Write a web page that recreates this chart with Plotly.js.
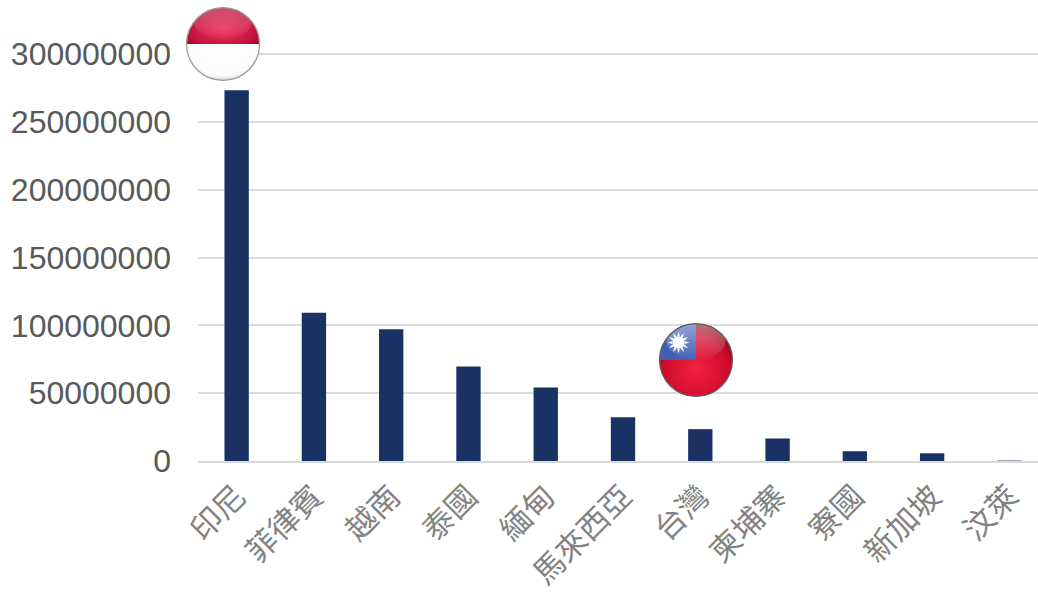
<!DOCTYPE html>
<html>
<head>
<meta charset="utf-8">
<script src="https://cdn.plot.ly/plotly-3.0.1.min.js"></script>
<style>html,body{margin:0;padding:0;background:#fff;overflow:hidden}#chart{width:1038px;height:594px}</style>
</head>
<body>
<div id="chart"></div>
<script>
const categories = ['印尼','菲律賓','越南','泰國','緬甸','馬來西亞','台灣','柬埔寨','寮國','新加坡','汶萊'];
const population = [273500000,109300000,97200000,69700000,54300000,32300000,23500000,16600000,7200000,5700000,300000];
const yTicks = [0,50000000,100000000,150000000,200000000,250000000,300000000];

function gloss(id){
  return `<linearGradient id="${id}h" x1="0" y1="0" x2="0" y2="1"><stop offset="0" stop-color="#fff" stop-opacity=".55"/><stop offset="1" stop-color="#fff" stop-opacity=".03"/></linearGradient>
  <clipPath id="${id}c"><circle cx="50" cy="50" r="48"/></clipPath>`;
}
const indonesia = `<svg xmlns="http://www.w3.org/2000/svg" width="200" height="200" viewBox="0 0 100 100"><defs>${gloss('a')}
<radialGradient id="r" cx="50%" cy="62%" r="65%"><stop offset="0" stop-color="#f0345e"/><stop offset=".7" stop-color="#c4103a"/><stop offset="1" stop-color="#8f0a28"/></radialGradient>
<radialGradient id="w" cx="50%" cy="25%" r="78%"><stop offset="0" stop-color="#fff"/><stop offset=".75" stop-color="#fbfbfb"/><stop offset="1" stop-color="#b5b5b5"/></radialGradient></defs>
<g clip-path="url(#ac)"><rect width="100" height="50" fill="url(#r)"/><rect y="50" width="100" height="50" fill="url(#w)"/>
<ellipse cx="50" cy="22" rx="38" ry="21" fill="url(#ah)" opacity=".55"/></g>
<circle cx="50" cy="50" r="48" fill="none" stroke="#9a9a9a" stroke-width="1.6"/></svg>`;

const rays = Array.from({length:12},(_,i)=>`<polygon points="-1.8,-8 1.8,-8 0,-14.5" fill="#fff" transform="translate(27,27) rotate(${i*30})"/>`).join('');
const taiwan = `<svg xmlns="http://www.w3.org/2000/svg" width="200" height="200" viewBox="0 0 100 100"><defs>${gloss('b')}
<radialGradient id="rr" cx="50%" cy="62%" r="60%"><stop offset="0" stop-color="#f5203f"/><stop offset=".7" stop-color="#cf0c2c"/><stop offset="1" stop-color="#7e0618"/></radialGradient></defs>
<g clip-path="url(#bc)"><rect width="100" height="100" fill="url(#rr)"/><rect width="50" height="50" fill="#3f60b5"/>${rays}
<circle cx="27" cy="27" r="8" fill="#fff"/>
<ellipse cx="50" cy="25" rx="39" ry="24" fill="url(#bh)" opacity=".8"/></g>
<circle cx="50" cy="50" r="48" fill="none" stroke="#5e5e5e" stroke-width="1.6"/></svg>`;
const uri = s => 'data:image/svg+xml;charset=utf-8,' + encodeURIComponent(s);

const trace = {type:'bar', x:categories, y:population, width:0.315,
  marker:{color:'#1a3263', line:{width:0}}, hoverinfo:'skip'};

const layout = {
  width:1038, height:594, paper_bgcolor:'#fff', plot_bgcolor:'#fff', showlegend:false,
  margin:{l:198, r:0, t:0, b:133, pad:0},
  xaxis:{type:'category', range:[-0.5,10.37], tickangle:-45, showgrid:false, zeroline:false,
    showline:true, linecolor:'#d9d9d9', linewidth:2, ticks:'', automargin:false,
    ticklabelstandoff:3, tickfont:{family:'"Noto Sans CJK TC"', size:31, color:'#828282'}},
  yaxis:{range:[0,340000000], tickvals:yTicks, tickformat:'d', showgrid:true, gridcolor:'#dcdcdc', gridwidth:2,
    zeroline:false, showline:false, ticks:'', automargin:false, ticklabelstandoff:26,
    tickfont:{family:'"Liberation Sans", Arial, sans-serif', size:32, color:'#595959'}},
  images:[
    {source:uri(indonesia), xref:'paper', yref:'paper', x:25/840, y:417/461, sizex:76/840, sizey:76/461, xanchor:'center', yanchor:'middle', sizing:'stretch', layer:'above'},
    {source:uri(taiwan), xref:'paper', yref:'paper', x:498/840, y:101/461, sizex:76/840, sizey:76/461, xanchor:'center', yanchor:'middle', sizing:'stretch', layer:'above'}
  ]
};
Plotly.newPlot('chart',[trace],layout,{displayModeBar:false,staticPlot:true});
</script>
</body>
</html>
